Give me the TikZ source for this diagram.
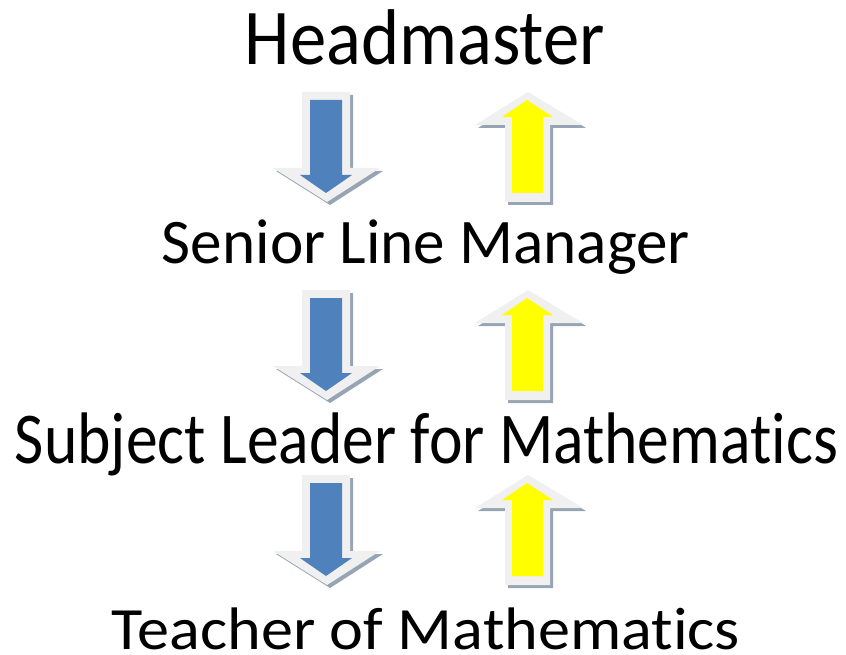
\documentclass[tikz,border=0pt]{standalone}
\usepackage{fontspec}
\usepackage{graphicx}
\setmainfont{Carlito}[Ligatures={NoCommon}]
\definecolor{arrblue}{HTML}{4F81BD}
\definecolor{arryellow}{HTML}{FFFF00}
\definecolor{arrrim}{HTML}{F0F0F0}
\definecolor{arrshadow}{HTML}{97A4B4}
\tikzset{
  lbl/.style={anchor=base, inner sep=0pt},
}
\newcommand{\fitlabel}[3]{\resizebox{#1pt}{\height}{\fontsize{#2}{#2}\selectfont #3}}
\newcommand{\downarr}[1]{%
  \begin{scope}[shift={(0,#1)}]
    \fill[arrshadow] (305,3) -- (353,3) -- (353,79) -- (383,79) -- (330,113) -- (276,79) -- (305,79) -- cycle;
    \fill[arrrim] (302,0) -- (350,0) -- (350,76) -- (380,76) -- (327,110) -- (273,76) -- (302,76) -- cycle;
    \fill[arrblue] (310,8) -- (342,8) -- (342,83) -- (352,83) -- (326,101) -- (300,83) -- (310,83) -- cycle;
  \end{scope}}
\newcommand{\uparr}[1]{%
  \begin{scope}[shift={(0,#1)}]
    \fill[arrshadow] (531,3) -- (586,36) -- (553,36) -- (553,113) -- (508,113) -- (508,36) -- (478,36) -- cycle;
    \fill[arrrim] (528,0) -- (583,33) -- (550,33) -- (550,110) -- (505,110) -- (505,33) -- (475,33) -- cycle;
    \fill[arryellow] (527,8) -- (553,25) -- (543,25) -- (543,101) -- (512,101) -- (512,25) -- (502,25) -- cycle;
  \end{scope}}
\begin{document}
\begin{tikzpicture}[x=1pt, y=-1pt]
  \useasboundingbox (0,0) rectangle (846,655);
  \downarr{92}
  \uparr{92}
  \downarr{290}
  \uparr{290}
  \downarr{475}
  \uparr{475}
  \node[lbl] (head) at (425,65) {\fitlabel{360}{79}{Headmaster}};
  \node[lbl] (slm) at (426,263) {\fitlabel{528}{63.5}{Senior Line Manager}};
  \node[lbl] (sl) at (426.5,463) {\fitlabel{823}{73}{Subject Leader for Mathematics}};
  \node[lbl] (tm) at (426,649) {\fitlabel{628}{60}{Teacher of Mathematics}};
\end{tikzpicture}
\end{document}
